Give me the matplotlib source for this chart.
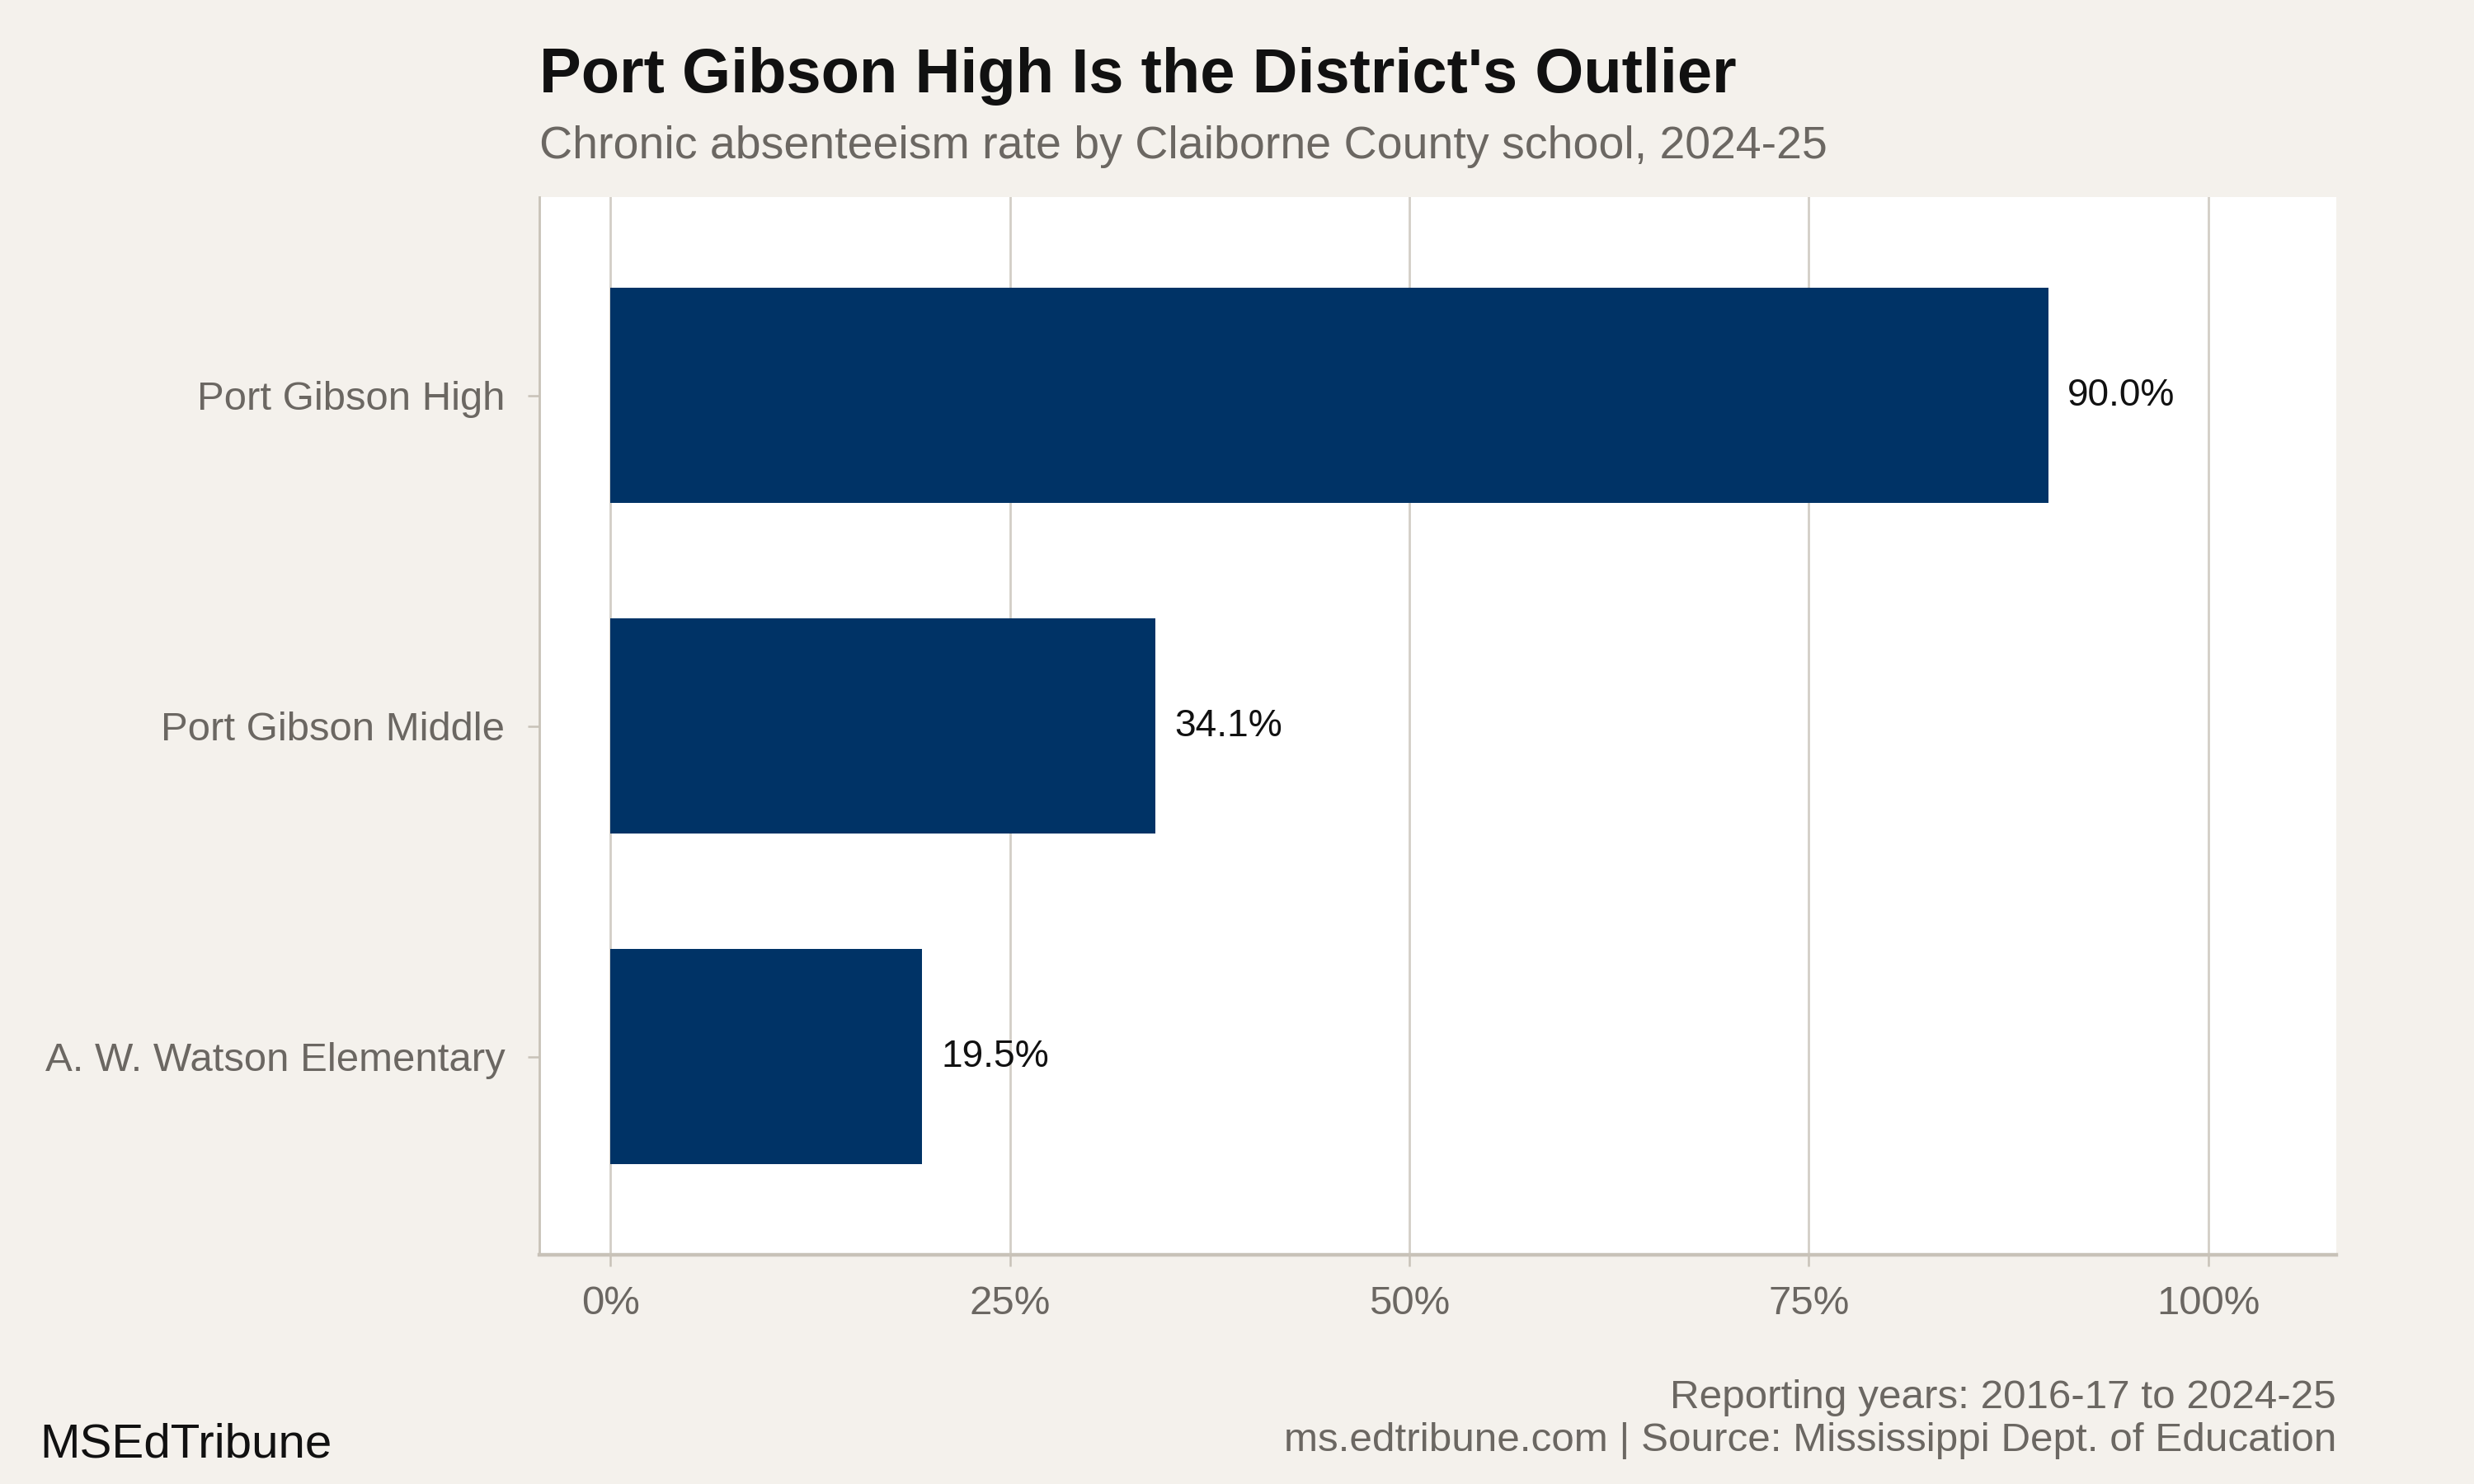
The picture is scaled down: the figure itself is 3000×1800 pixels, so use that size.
import matplotlib.pyplot as plt

# data
schools = ["Port Gibson High", "Port Gibson Middle", "A. W. Watson Elementary"]
rates = [90.0, 34.1, 19.5]
xticks = [0, 25, 50, 75, 100]
xtick_labels = ["0%", "25%", "50%", "75%", "100%"]

bg = "#F4F1EC"
bar_col = "#003366"
grid_col = "#D3CEC6"
axis_col = "#C8C2B8"
txt_gray = "#6B6762"

plt.rcParams['font.family'] = ['Liberation Sans', 'DejaVu Sans']

fig = plt.figure(figsize=(15, 9), dpi=200, facecolor=bg)
ax = fig.add_axes([0.218, 0.1544, 0.9443 - 0.218, 0.8672 - 0.1544])
ax.set_facecolor("white")

ypos = list(range(len(schools)))
ax.barh(ypos, rates, height=0.65, color=bar_col, zorder=3)
for y, v in zip(ypos, rates):
    ax.annotate(f"{v:.1f}%", (v, y), xytext=(8.3, 0), textcoords="offset points",
                va="center", ha="left", fontsize=16.6, color="#111111", zorder=4)

ax.set_ylim(len(schools) - 0.4, -0.6)
ax.set_xlim(-4.45, 108.0)
ax.set_yticks(ypos)
ax.set_yticklabels(schools)
ax.set_xticks(xticks)
ax.set_xticklabels(xtick_labels)

ax.grid(axis="x", color=grid_col, linewidth=1.0, zorder=0)
ax.grid(axis="y", visible=False)
for s in ["top", "right"]:
    ax.spines[s].set_visible(False)
ax.spines["left"].set_color(axis_col)
ax.spines["left"].set_linewidth(1.0)
ax.spines["bottom"].set_color(axis_col)
ax.spines["bottom"].set_linewidth(1.6)
ax.tick_params(axis="both", colors=axis_col, labelcolor=txt_gray, labelsize=17.7,
               length=5.2, width=0.9)
ax.tick_params(axis="x", pad=8)
ax.tick_params(axis="y", pad=9.8)

# titles
fig.text(0.218, 0.9378, "Port Gibson High Is the District's Outlier",
         fontsize=27.3, fontweight="bold", color="#111111", ha="left", va="baseline")
fig.text(0.218, 0.8933, "Chronic absenteeism rate by Claiborne County school, 2024-25",
         fontsize=20, color=txt_gray, ha="left", va="baseline")

# footer
fig.text(0.9443, 0.0511, "Reporting years: 2016-17 to 2024-25",
         fontsize=17.8, color=txt_gray, ha="right", va="baseline")
fig.text(0.9443, 0.0222, "ms.edtribune.com | Source: Mississippi Dept. of Education",
         fontsize=17.8, color=txt_gray, ha="right", va="baseline")
fig.text(0.016, 0.0183, "MSEdTribune", fontsize=21, color="#111111",
         ha="left", va="baseline")

fig.savefig("out.png", dpi=200, facecolor=bg)
